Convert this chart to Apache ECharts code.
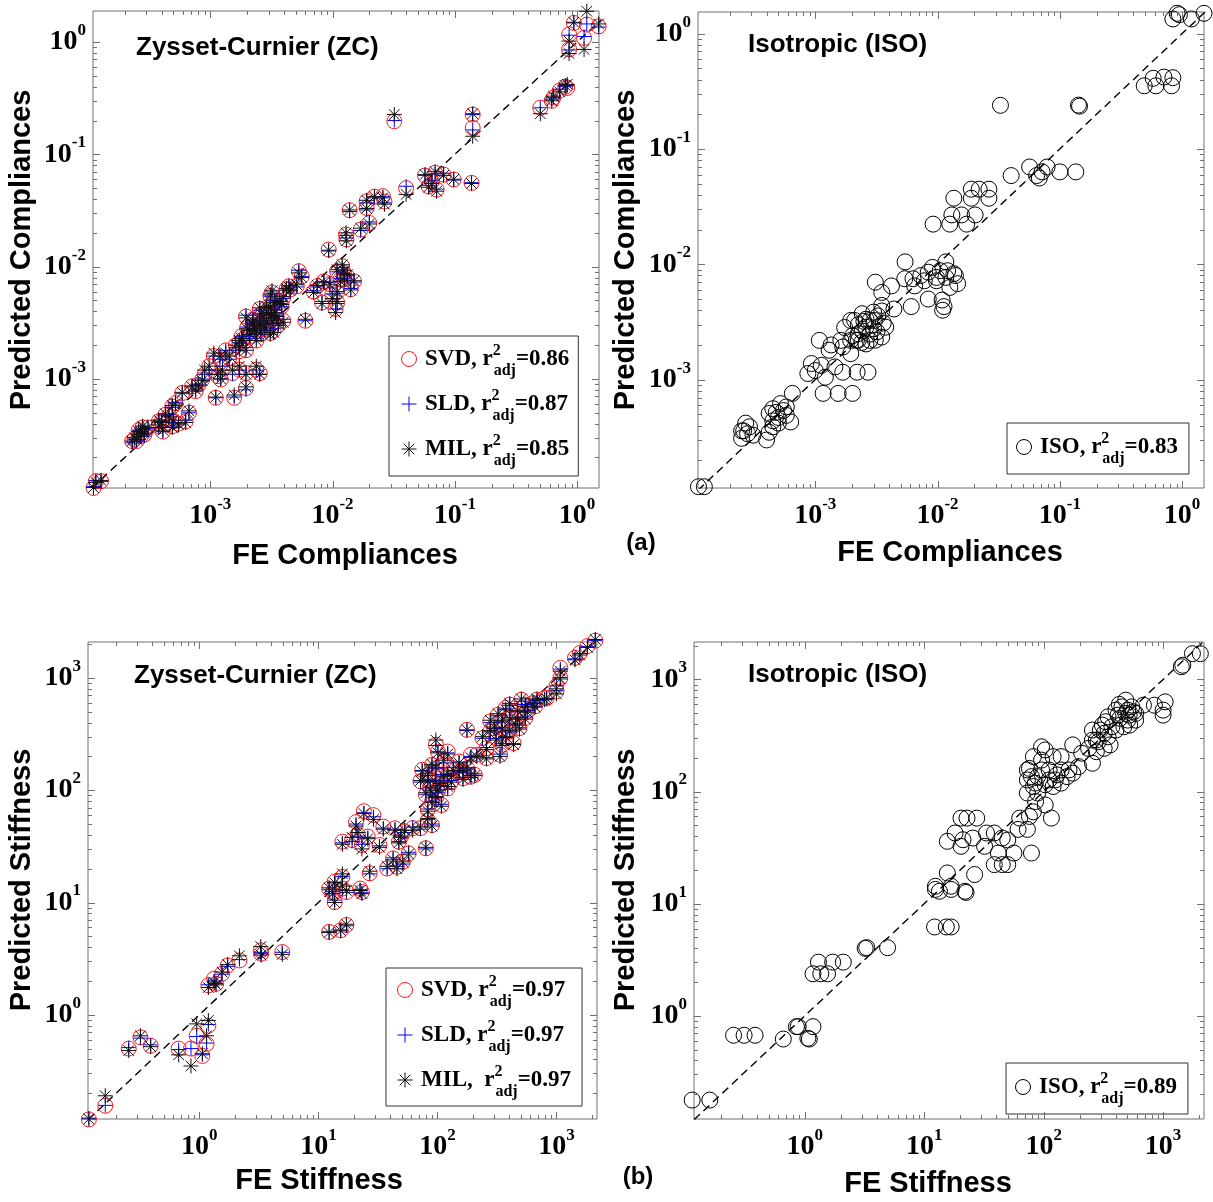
<!DOCTYPE html>
<html><head><meta charset="utf-8">
<script src="https://cdn.jsdelivr.net/npm/echarts@6/dist/echarts.min.js"></script>
<style>html,body{margin:0;padding:0;background:#fff}#c{width:1213px;height:1202px}</style>
</head><body><div id="c"></div>
<script>
// ================= DATA =================
// (a) Compliances - Zysset-Curnier (three fabric methods)
const compFE_ZC = [
0.94,1.20,1.50,0.86,1.14,0.86,0.50,0.62,0.64,0.72,
0.80,0.83,0.032,0.14,0.14,0.137,0.098,0.057,0.069,0.081,
0.065,0.071,0.061,0.040,0.0258,0.022,0.019,0.019,0.0266,0.0138,
0.020,0.017,0.0129,0.0093,0.013,0.0053,0.0056,0.0075,0.0085,0.0109,
0.012,0.0132,0.015,0.0141,0.0109,0.0082,0.0109,0.0106,0.0070,0.0060,
0.0044,0.0032,0.0042,0.0031,0.0125,0.0095,0.00196,0.00254,0.0031,0.0037,
0.00395,0.00327,0.0028,0.0021,0.00173,0.00196,0.00162,0.00238,0.0027,0.0035,
0.00223,0.0023,0.0026,0.0030,0.0018,0.0033,0.00134,0.00107,0.00098,0.00086,
0.00122,0.00152,0.00173,0.00196,0.00238,0.00254,0.00196,0.00111,0.00157,0.00071,
0.00059,0.00052,0.00049,0.00046,0.00040,0.00038,0.00041,0.00067,0.00063,0.00050,
0.00055,0.00049,0.00028,0.00027,0.00024,0.00023,0.00026,0.00029,0.000111,0.000116,
0.000128,0.00090,0.0012,
0.00185,0.0021,0.00238,0.00254,0.00288,0.00316,0.00337,0.00384,0.00395,0.00337,
0.00288,0.0026,0.00223,0.0020,0.0031,0.0036,0.00173,0.00143,0.00126,0.00115,
0.0008,0.00076,0.00043,0.00038,0.00031,0.00027,0.00025,0.0045,0.0051,0.0116,
0.0124,0.00995];
const compSVD = [
1.48,1.43,1.38,1.17,1.09,0.86,0.26,0.30,0.32,0.37,
0.40,0.39,0.197,0.226,0.172,0.0557,0.0597,0.0648,0.0684,0.066,
0.0576,0.0486,0.052,0.050,0.0424,0.042,0.0382,0.0334,0.038,0.0318,
0.0245,0.0214,0.0193,0.0142,0.0175,0.0091,0.0082,0.0067,0.0074,0.0091,
0.0101,0.0082,0.0074,0.0063,0.0059,0.0048,0.0048,0.0042,0.0060,0.0033,
0.0067,0.0059,0.0063,0.0055,0.0078,0.0070,0.0036,0.0042,0.0044,0.0048,
0.0033,0.0032,0.0028,0.0026,0.0021,0.0018,0.0020,0.0022,0.0034,0.0036,
0.0032,0.0029,0.0025,0.0039,0.0024,0.0027,0.0018,0.0016,0.0013,0.00099,
0.00099,0.00113,0.00121,0.00113,0.00121,0.00113,0.00083,0.00068,0.00068,0.00086,
0.00075,0.00061,0.00057,0.00047,0.00042,0.00038,0.00034,0.00050,0.00042,0.00042,
0.00040,0.00038,0.00037,0.00033,0.00029,0.00028,0.00035,0.00032,0.000107,0.000123,
0.000123,0.0011,0.0015,
0.00224,0.0024,0.00275,0.0030,0.00316,0.0036,0.0040,0.00444,0.0053,0.0049,
0.0043,0.00375,0.00338,0.00284,0.00257,0.0030,0.00177,0.00154,0.00126,0.00106,
0.00089,0.00078,0.00048,0.00042,0.00037,0.00031,0.00028,0.00625,0.0067,0.0077,
0.0088,0.00565];
const compSLD = [
1.48,1.45,1.36,1.15,1.12,0.85,0.26,0.31,0.32,0.38,
0.40,0.41,0.20,0.226,0.165,0.056,0.059,0.065,0.067,0.068,
0.058,0.049,0.053,0.052,0.042,0.041,0.037,0.032,0.037,0.031,
0.025,0.021,0.019,0.0138,0.018,0.0093,0.0082,0.0066,0.0074,0.0090,
0.0098,0.0083,0.0073,0.0064,0.0058,0.0049,0.0047,0.0042,0.0061,0.0033,
0.0068,0.0058,0.0062,0.0054,0.0079,0.0072,0.0037,0.0041,0.0045,0.0047,
0.0034,0.0031,0.0027,0.0025,0.0021,0.0019,0.0019,0.0023,0.0033,0.0037,
0.0032,0.0030,0.0025,0.0039,0.0024,0.0028,0.0018,0.0016,0.0012,0.0010,
0.0010,0.0011,0.0012,0.0011,0.0012,0.0011,0.00080,0.00068,0.00069,0.00087,
0.00074,0.00062,0.00056,0.00048,0.00042,0.00037,0.00034,0.00050,0.00043,0.00041,
0.00040,0.00038,0.00036,0.00033,0.00029,0.00027,0.00035,0.00031,0.00011,0.000125,
0.000122,0.0011,0.0015,
0.0023,0.0024,0.0027,0.0030,0.0031,0.0035,0.0041,0.0044,0.0052,0.0050,
0.0043,0.0037,0.0034,0.0029,0.0026,0.0030,0.0018,0.0015,0.0013,0.0011,
0.0009,0.00078,0.00047,0.00042,0.00036,0.00031,0.00028,0.0063,0.0066,0.0078,
0.0087,0.0057];
const compMIL = [
1.50,1.88,1.45,1.02,0.86,0.79,0.23,0.30,0.33,0.36,
0.41,0.42,0.226,0.23,0.145,0.055,0.060,0.066,0.070,0.065,
0.055,0.047,0.051,0.044,0.041,0.042,0.039,0.033,0.036,0.032,
0.024,0.022,0.020,0.014,0.017,0.0088,0.0080,0.0068,0.0072,0.0094,
0.0104,0.0085,0.0075,0.0062,0.0060,0.0047,0.0049,0.0039,0.0059,0.0034,
0.0066,0.0061,0.0064,0.0056,0.0076,0.0069,0.0035,0.0043,0.0043,0.0049,
0.0032,0.0033,0.0029,0.0027,0.0022,0.0018,0.0020,0.0022,0.0035,0.0036,
0.0031,0.0028,0.0026,0.0038,0.0023,0.0026,0.0017,0.0017,0.0013,0.00097,
0.0010,0.0012,0.0013,0.0011,0.0013,0.0011,0.00085,0.00069,0.00072,0.00085,
0.00076,0.00060,0.00058,0.00046,0.00041,0.00039,0.00035,0.00052,0.00041,0.00043,
0.00039,0.00037,0.00038,0.00034,0.00030,0.00028,0.00034,0.00033,0.000108,0.00012,
0.000125,0.0012,0.0016,
0.0022,0.0025,0.0028,0.0031,0.0032,0.0037,0.0039,0.0046,0.0054,0.0048,
0.0044,0.0038,0.0033,0.0028,0.0025,0.0031,0.0019,0.0016,0.0012,0.0011,
0.00088,0.0008,0.00049,0.00043,0.00037,0.00032,0.00029,0.0061,0.0069,0.0074,
0.0092,0.0052];

// (a) Compliances - Isotropic
const compFE_ISO = [
0.91,0.95,0.84,1.19,1.51,0.49,0.61,0.58,0.71,0.84,
0.82,0.0327,0.145,0.142,0.0566,0.040,0.0646,0.0787,0.0716,0.100,
0.135,0.068,0.0136,0.0189,0.0219,0.0263,0.0189,0.0263,0.0131,0.0157,
0.0203,0.0092,0.0126,0.0173,0.00543,0.0117,0.0084,0.0105,0.0136,0.0117,
0.0146,0.0126,0.0098,0.0078,0.0063,0.0054,0.0042,0.0035,0.0031,0.0084,
0.0113,0.0061,0.0109,0.0110,0.0035,0.0030,0.0028,0.0026,0.00225,0.00195,
0.00168,0.0021,0.00242,0.0030,0.0035,0.00377,0.0028,0.00195,0.00217,0.00162,
0.00195,0.00108,0.0013,0.00135,0.00087,0.0010,0.00093,0.00112,0.00121,0.00116,
0.00154,0.00202,0.00145,0.00168,0.0022,0.0027,0.00065,0.00052,0.00045,0.00042,
0.00048,0.00055,0.00063,0.00050,0.00045,0.00040,0.00027,0.00029,0.00028,0.00025,
0.00031,0.000111,0.000124,0.00026,0.0025,0.0024,0.0032,0.0044,0.00042,0.00058,
0.00174,0.00225,0.00242,0.0026,0.00305,0.00325,0.0035,0.0028,0.00225,0.00202,
0.0026,0.0031,0.0036,0.0098,0.0121,0.0073,0.0091,0.014,0.0065,0.0005,
0.00058,0.00045,0.00025];
const compISO = [
1.50,1.46,1.34,1.34,1.50,0.353,0.353,0.41,0.42,0.415,
0.353,0.239,0.235,0.24,0.0698,0.0588,0.0588,0.0698,0.0633,0.0633,
0.0633,0.056,0.0374,0.0448,0.0448,0.0448,0.0374,0.0374,0.0268,0.0268,
0.0268,0.0223,0.0223,0.0223,0.0105,0.0105,0.00855,0.0088,0.0083,0.0077,
0.0068,0.0063,0.0072,0.0072,0.0075,0.0075,0.0065,0.0057,0.0070,0.0050,
0.0043,0.0043,0.0049,0.0040,0.0044,0.00385,0.00326,0.00285,0.0025,0.00219,
0.00192,0.00326,0.00373,0.00276,0.00234,0.00285,0.00219,0.00168,0.00219,0.00219,
0.00326,0.00219,0.0018,0.0020,0.00113,0.0012,0.00138,0.00133,0.00105,0.00076,
0.00076,0.00076,0.00129,0.00116,0.00116,0.00116,0.00076,0.00062,0.00056,0.00051,
0.00052,0.00054,0.00043,0.00042,0.00039,0.00030,0.00042,0.00039,0.00034,0.00031,
0.00033,0.000118,0.000118,0.00036,0.0032,0.0021,0.0026,0.0041,0.00035,0.00058,
0.00283,0.0030,0.00264,0.00334,0.00326,0.00357,0.00394,0.00248,0.0022,0.0024,
0.00204,0.0022,0.0031,0.0077,0.0088,0.0080,0.0094,0.0080,0.0065,0.00047,
0.00049,0.00044,0.00036];

// (b) Stiffness - Zysset-Curnier
const stifFE_ZC = [
2120,1820,1570,1430,1077,1077,998,1000,828,686,
547,471,375,405,323,278,349,278,375,311,
436,258,214,336,258,796,635,507,454,547,
177,97,101,122,74.5,90,113,152,177,206,
152,122,83,72,105,131,164,80,101,90,
108,83,83,90,72,62,53,191,24.1,29,
20.7,15.9,19.2,23.2,21.5,26,35.1,44,49.3,47.4,
32.6,57.3,80,42.4,37.8,45.7,51.2,27,15.9,13.7,
12.3,15.9,22.4,13.2,13.7,17.2,23.2,12.3,15.4,17.2,
3.28,4.97,2.17,1.73,1.55,1.33,1.19,1.38,1.19,0.95,
1.15,1.06,0.85,0.67,0.32,0.39,0.255,0.162,0.118,3.3,
83.4,97,113,136,164,191,97,87,122,97,
405,471,349,300,405,568,660,489,239,349];
const stifSVD = [
2150,1920,1670,1510,1228,1000,843,760,663,640,
578,505,540,440,470,410,358,334,291,291,
263,237,207,207,193,663,598,640,383,440,
345,254,221,221,152,168,180,180,157,137,
147,137,124,120,112,120,128,91,97,79,
74,67,54,49,46,46,43,207,65,60,
52,34.8,36,32.5,40,38.6,47.4,45.8,38.6,34.8,
32.5,27.4,30.4,24.7,20.1,20.8,23,18.2,16.9,15.3,
13.3,13.3,13.3,12.4,10.1,12.4,12.4,5.47,5.66,6.3,
3.75,3.62,3.05,2.75,2.32,2.1,1.83,1.89,0.80,0.65,
0.55,0.43,0.50,0.50,0.63,0.53,0.50,0.155,0.117,3.5,
137,157,137,157,147,132,120,104,104,85,
578,440,410,358,334,505,558,358,291,254];
const stifSLD = [
2150,1900,1650,1480,1200,1010,850,770,660,630,
580,500,530,445,460,400,360,330,295,290,
260,240,205,210,195,650,600,620,380,450,
340,250,220,215,150,165,175,178,155,140,
145,135,125,118,110,122,130,92,95,80,
75,68,55,50,45,47,42,200,63,58,
50,34,35,33,39,38,46,45,38,35,
32,28,30,25,20,21,22,18,17,15,
13,13,13,12.5,10.5,12.3,12.2,5.5,5.7,6.2,
3.6,3.6,3.1,2.7,2.3,2.0,1.85,1.9,0.82,0.64,
0.56,0.44,0.50,0.49,0.62,0.54,0.51,0.156,0.12,3.5,
135,155,138,160,145,130,122,105,102,86,
570,445,405,355,330,510,560,360,290,250];
const stifMIL = [
2200,1870,1600,1450,1150,980,800,720,650,650,
560,510,520,430,480,420,350,340,300,280,
255,230,200,200,190,640,590,650,390,430,
345,280,215,210,148,170,185,175,160,135,
150,140,120,122,115,118,125,95,100,78,
72,65,56,48,47,44,44,195,62,55,
48,33,38,30,42,37,45,44,39,34,
31,27,31,24,21,20,23,19,18,15,
13.5,14,12.8,12,10,12.8,12,5.4,5.6,6.4,
4.05,3.45,3.35,2.8,2.4,1.95,1.75,1.85,0.89,0.83,
0.65,0.45,0.35,0.44,0.65,0.52,0.48,0.19,0.118,3.4,
140,160,133,150,150,135,118,100,108,88,
590,430,420,365,340,495,550,350,300,260];

// (b) Stiffness - Isotropic
const stifFE_ISO = [
2050,1760,1460,1420,1040,1000,1000,845,684,487,
403,566,434,346,310,373,469,298,346,286,
256,238,276,208,256,360,506,589,546,175,
96,76,96,111,140,175,196,157,125,103,
82,73,73,89,120,140,89,120,73,85.5,
103,82,76,63,116,73,61,50,38.6,33.2,
45,41.7,56.4,79,38.6,45,50,20.3,22.8,27.5,
18.1,21.1,25.5,20.3,15.6,32,26.4,15.6,16.8,12.4,
13.4,21.9,12.4,16.8,22.4,12.2,15.3,16.8,3.3,3.2,
4.93,1.3,1.71,2.1,1.17,1.36,1.55,0.85,0.88,1.17,
1.06,1.09,0.66,0.253,0.31,0.383,0.114,0.16,430,520,
330,
79,85,96,111,129,163,140,82,103,419,
487,525,403,321,276,452,506,589,256,321];
const stifISO = [
1700,1700,1340,1300,632,533,481,590,590,654,
533,515,450,465,392,379,379,354,308,278,
354,243,227,220,179,261,434,434,570,261,
251,161,191,156,156,146,167,136,127,115,
111,127,97,97,111,119,136,205,156,81.5,
76,66,60,58,58,46,46,37,42.7,42.7,
38.5,28.3,28.3,28.3,22.3,22.3,22.3,58,58,58,
42.7,37.2,38.5,32.5,36,32.5,18.2,18.8,14.3,14.3,
12.9,12.9,13.4,13.4,12.6,6.2,6.2,6.2,4.05,4.0,
4.05,3.01,3.01,3.01,2.37,2.37,2.37,0.80,0.80,0.80,
0.63,0.62,0.62,0.67,0.67,0.67,0.177,0.177,600,480,
420,
136,119,156,127,141,156,205,205,235,481,
498,392,354,331,288,570,533,498,288,243];

// axis ranges (min, max) read from the frames
const compZC_xRange = [1.1e-4, 1.51];
const compZC_yRange = [1.07e-4, 1.89];
const compISO_xRange = [1.1e-4, 1.51];
const compISO_yRange = [1.15e-4, 1.54];
const stifZC_xRange = [0.116, 2190];
const stifZC_yRange = [0.118, 2090];
const stifISO_xRange = [0.118, 2200];
const stifISO_yRange = [0.12, 2160];

// texts
const panelTitles = ['Zysset-Curnier (ZC)', 'Isotropic (ISO)', 'Zysset-Curnier (ZC)', 'Isotropic (ISO)'];
const xNames = ['FE Compliances', 'FE Compliances', 'FE Stiffness', 'FE Stiffness'];
const yNames = ['Predicted Compliances', 'Predicted Compliances', 'Predicted Stiffness', 'Predicted Stiffness'];
const legendLabels = {
  cSVD: '{t|SVD, r}{p|2}{q|adj}{t|=0.86}',
  cSLD: '{t|SLD, r}{p|2}{q|adj}{t|=0.87}',
  cMIL: '{t|MIL, r}{p|2}{q|adj}{t|=0.85}',
  cISO: '{t|ISO, r}{p|2}{q|adj}{t|=0.83}',
  sSVD: '{t|SVD, r}{p|2}{q|adj}{t|=0.97}',
  sSLD: '{t|SLD, r}{p|2}{q|adj}{t|=0.97}',
  sMIL: '{t|MIL,  r}{p|2}{q|adj}{t|=0.97}',
  sISO: '{t|ISO, r}{p|2}{q|adj}{t|=0.89}'
};

// ================= CHART =================
const SANS = '"Liberation Sans", Arial, sans-serif';
const SERIF = '"Liberation Serif", "Times New Roman", serif';
const FRAME = '#707070';

const panels = [
  {xr: compZC_xRange, yr: compZC_yRange, grid: {left: 93, top: 11, width: 506, height: 477}},
  {xr: compISO_xRange, yr: compISO_yRange, grid: {left: 698, top: 12, width: 506, height: 476}},
  {xr: stifZC_xRange, yr: stifZC_yRange, grid: {left: 88, top: 642, width: 509, height: 477}},
  {xr: stifISO_xRange, yr: stifISO_yRange, grid: {left: 694, top: 642, width: 510, height: 477}}
];

function powLabel(v) {
  const l = Math.log10(v), e = Math.round(l);
  if (Math.abs(l - e) > 1e-6) return '';
  return '{b|10}{s|' + e + '}';
}
const labelRich = {
  b: {fontFamily: SERIF, fontWeight: 'bold', fontSize: 28, lineHeight: 40, color: '#000'},
  s: {fontFamily: SERIF, fontWeight: 'bold', fontSize: 17, height: 17, lineHeight: 10, verticalAlign: 'top', color: '#000'}
};
const legendRich = {
  t: {fontFamily: SERIF, fontWeight: 'bold', fontSize: 23, lineHeight: 36, color: '#000'},
  p: {fontFamily: SERIF, fontWeight: 'bold', fontSize: 16, height: 20, lineHeight: 10, width: 1, verticalAlign: 'top', color: '#000'},
  q: {fontFamily: SERIF, fontWeight: 'bold', fontSize: 16, height: 12, lineHeight: 10, verticalAlign: 'bottom', color: '#000'}
};

function decadeTicks(r) {
  const out = [];
  const e0 = Math.floor(Math.log10(r[0])), e1 = Math.ceil(Math.log10(r[1]));
  for (let e = e0; e <= e1; e++) for (let m = 1; m <= 9; m++) {
    const v = m * Math.pow(10, e);
    if (v > r[0] * 1.0001 && v < r[1] / 1.0001) out.push({v: v, major: m === 1});
  }
  return out;
}

const PLUS = 'path://M0,5L10,5M5,0L5,10';
const STAR = 'path://M5,0L5,10M0,5L10,5M1.46,1.46L8.54,8.54M1.46,8.54L8.54,1.46';
const CLEAR = 'rgba(0,0,0,0)';

const grids = [], xAxes = [], yAxes = [], series = [];
panels.forEach((p, i) => {
  grids.push(Object.assign({show: true, borderColor: FRAME, borderWidth: 1, backgroundColor: '#fff'}, p.grid));
  xAxes.push({type: 'log', logBase: 10, gridIndex: i, min: p.xr[0], max: p.xr[1],
    axisLine: {show: false}, axisTick: {show: false}, splitLine: {show: false}, minorTick: {show: false},
    axisLabel: {show: true, margin: 8, formatter: powLabel, rich: labelRich, color: '#000'}});
  yAxes.push({type: 'log', logBase: 10, gridIndex: i, min: p.yr[0], max: p.yr[1],
    axisLine: {show: false}, axisTick: {show: false}, splitLine: {show: false}, minorTick: {show: false},
    axisLabel: {show: true, margin: 7, formatter: powLabel, rich: labelRich, color: '#000'}});
  // ticks (inside, all four sides)
  const xt = decadeTicks(p.xr), yt = decadeTicks(p.yr);
  series.push({type: 'custom', xAxisIndex: i, yAxisIndex: i, silent: true, z: 5, animation: false,
    data: [[p.xr[0], p.yr[0]]],
    renderItem: function (params, api) {
      const cs = params.coordSys;
      const x0 = cs.x, y0 = cs.y, x1 = cs.x + cs.width, y1 = cs.y + cs.height;
      const ch = [];
      const ln = (a, b, c, d) => ({type: 'line', shape: {x1: a, y1: b, x2: c, y2: d}, style: {stroke: FRAME, lineWidth: 1}});
      xt.forEach(t => {
        const px = Math.round(api.coord([t.v, p.yr[0]])[0]) + 0.5, L = t.major ? 7 : 4;
        ch.push(ln(px, y1, px, y1 - L)); ch.push(ln(px, y0, px, y0 + L));
      });
      yt.forEach(t => {
        const py = Math.round(api.coord([p.xr[0], t.v])[1]) + 0.5, L = t.major ? 7 : 4;
        ch.push(ln(x0, py, x0 + L, py)); ch.push(ln(x1, py, x1 - L, py));
      });
      return {type: 'group', children: ch};
    }});
  // 1:1 dashed line
  const lo = Math.min(p.xr[0], p.yr[0]), hi = Math.max(p.xr[1], p.yr[1]);
  series.push({type: 'line', xAxisIndex: i, yAxisIndex: i, data: [[lo, lo], [hi, hi]], symbol: 'none',
    silent: true, z: 2, clip: true, animation: false,
    lineStyle: {color: '#000', width: 1.4, type: [8, 5]}});
});

function scatter(name, i, xs, ys, symbol, size, color) {
  return {type: 'scatter', name: name, xAxisIndex: i, yAxisIndex: i, clip: false,
    data: xs.map((x, k) => [x, ys[k]]), symbol: symbol, symbolSize: size, silent: true, z: 3,
    animation: false, itemStyle: {color: CLEAR, borderColor: color, borderWidth: 1, opacity: 1}};
}
series.push(scatter('cSVD', 0, compFE_ZC, compSVD, 'circle', 15, '#ff1a1a'));
series.push(scatter('cSLD', 0, compFE_ZC, compSLD, PLUS, 14, '#0000ff'));
series.push(scatter('cMIL', 0, compFE_ZC, compMIL, STAR, 15, '#111'));
series.push(scatter('cISO', 1, compFE_ISO, compISO, 'circle', 16, '#000'));
series.push(scatter('sSVD', 2, stifFE_ZC, stifSVD, 'circle', 15, '#ff1a1a'));
series.push(scatter('sSLD', 2, stifFE_ZC, stifSLD, PLUS, 14, '#0000ff'));
series.push(scatter('sMIL', 2, stifFE_ZC, stifMIL, STAR, 15, '#111'));
series.push(scatter('sISO', 3, stifFE_ISO, stifISO, 'circle', 16, '#000'));

function legItem(name, icon, color) {
  return {name: name, icon: icon, itemStyle: {color: CLEAR, borderColor: color, borderWidth: 1}};
}
function legend(left, top, pad, items) {
  return {orient: 'vertical', left: left, top: top, padding: pad, itemGap: 7, itemWidth: 22, itemHeight: 15,
    borderColor: '#333', borderWidth: 1, backgroundColor: '#fff', selectedMode: false, data: items,
    formatter: n => legendLabels[n],
    textStyle: {fontFamily: SERIF, fontWeight: 'bold', fontSize: 23, color: '#000', rich: legendRich}};
}
const legends = [
  legend(389, 336, [5, 9, 7, 12], [legItem('cSVD', 'circle', '#ff1a1a'), legItem('cSLD', PLUS, '#0000ff'), legItem('cMIL', STAR, '#111')]),
  legend(1007, 423, [6, 11, 7, 9], [legItem('cISO', 'circle', '#000')]),
  legend(386, 968, [4, 11, 6, 11], [legItem('sSVD', 'circle', '#ff1a1a'), legItem('sSLD', PLUS, '#0000ff'), legItem('sMIL', STAR, '#111')]),
  legend(1006, 1063, [6, 11, 7, 9], [legItem('sISO', 'circle', '#000')])
];

function txt(s, x, y, size, opts) {
  return Object.assign({type: 'text', x: x, y: y, silent: true, z: 100,
    style: {text: s, fontFamily: SANS, fontWeight: 'bold', fontSize: size, fill: '#000',
      align: (opts && opts.align) || 'center', verticalAlign: 'middle'}}, opts && opts.rot ? {rotation: Math.PI / 2} : {});
}
const graphics = [
  txt(panelTitles[0], 136, 48, 26, {align: 'left'}),
  txt(panelTitles[1], 748, 45, 26, {align: 'left'}),
  txt(panelTitles[2], 134, 676, 26, {align: 'left'}),
  txt(panelTitles[3], 748, 675, 26, {align: 'left'}),
  txt(xNames[0], 345, 556, 29),
  txt(xNames[1], 950, 553, 29),
  txt(xNames[2], 319, 1181, 29),
  txt(xNames[3], 928, 1184, 29),
  txt(yNames[0], 22, 250, 29, {rot: true}),
  txt(yNames[1], 626, 250, 29, {rot: true}),
  txt(yNames[2], 22, 880, 29, {rot: true}),
  txt(yNames[3], 626, 880, 29, {rot: true}),
  txt('(a)', 641, 543, 24),
  txt('(b)', 638, 1177, 24)
];

const chart = echarts.init(document.getElementById('c'), null, {renderer: 'canvas', width: 1213, height: 1202});
chart.setOption({
  animation: false,
  backgroundColor: '#fff',
  grid: grids, xAxis: xAxes, yAxis: yAxes,
  legend: legends,
  series: series,
  graphic: graphics
});
</script>
</body></html>
